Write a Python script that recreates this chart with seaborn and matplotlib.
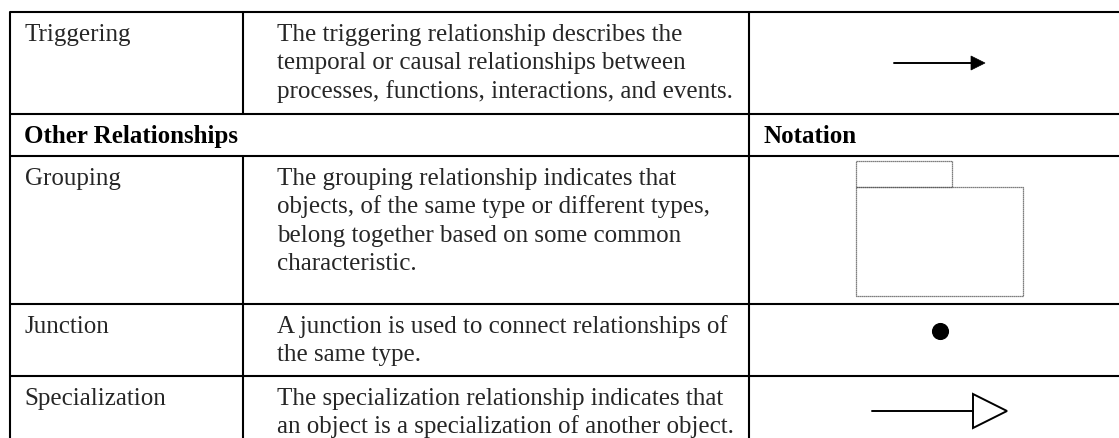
import matplotlib
matplotlib.use("Agg")
import matplotlib.pyplot as plt
from matplotlib.patches import Polygon, Rectangle
import seaborn as sns

sns.set_style("white")
plt.rcParams['font.family'] = ['Liberation Serif', 'DejaVu Serif']

# Table content
row_names = ["Triggering", "Grouping", "Junction", "Specialization"]
descriptions = [
    ["The triggering relationship describes the",
     "temporal or causal relationships between",
     "processes, functions, interactions, and events."],
    ["The grouping relationship indicates that",
     "objects, of the same type or different types,",
     "belong together based on some common",
     "characteristic."],
    ["A junction is used to connect relationships of",
     "the same type."],
    ["The specialization relationship indicates that",
     "an object is a specialization of another object."],
]
notations = ["triggering", "grouping", "junction", "specialization"]
header_left = "Other Relationships"
header_right = "Notation"

# Layout (pixels, y grows downwards)
W, H = 1119, 438
x_left, x_div1, x_div2, x_right = 9.5, 243, 749, 1140
row_tops = [12, 156, 304, 376]      # data rows
header_top, header_bottom = 114, 156
pad1, pad2, pad3 = 15, 34, 14
base_off = 29
line_gap = 28.5
fs = 18
lw = 1.5

fig = plt.figure(figsize=(W / 100, H / 100), dpi=100)
ax = fig.add_axes([0, 0, 1, 1])
ax.set_xlim(0, W)
ax.set_ylim(H, 0)
ax.axis('off')

# borders
for y in [12, 114, 156, 304, 376]:
    ax.plot([x_left, x_right], [y, y], color='black', lw=lw, solid_capstyle='butt')
ax.plot([x_left, x_left], [12, 470], color='black', lw=lw)
ax.plot([x_div2, x_div2], [12, 470], color='black', lw=lw)
ax.plot([x_div1, x_div1], [12, header_top], color='black', lw=lw)
ax.plot([x_div1, x_div1], [header_bottom, 470], color='black', lw=lw)

# header row
ax.text(x_left + pad1, header_top + 29, header_left, fontsize=fs, fontweight='bold',
        va='baseline', ha='left', color='black')
ax.text(x_div2 + pad3, header_top + 29, header_right, fontsize=fs, fontweight='bold',
        va='baseline', ha='left', color='black')

# data rows
for name, lines, top in zip(row_names, descriptions, row_tops):
    ax.text(x_left + pad1, top + base_off, name, fontsize=fs, va='baseline', ha='left')
    for k, line in enumerate(lines):
        ax.text(x_div1 + pad2, top + base_off + k * line_gap, line, fontsize=fs,
                va='baseline', ha='left')

# notation glyphs
for kind in notations:
    if kind == "triggering":
        ax.plot([894, 972], [63, 63], color='black', lw=1.4)
        ax.add_patch(Polygon([(971, 56), (985, 63), (971, 70)], closed=True,
                             facecolor='black', edgecolor='black', lw=0.5))
    elif kind == "grouping":
        box_style = dict(fill=False, edgecolor='#555555', lw=0.9, linestyle=(0, (1, 0.6)))
        ax.add_patch(Rectangle((856, 161), 96, 26, **box_style))
        ax.add_patch(Rectangle((856, 187), 167, 109, **box_style))
    elif kind == "junction":
        sns.scatterplot(x=[940], y=[331], s=130, color='black', edgecolor='black',
                        ax=ax, legend=False)
    elif kind == "specialization":
        ax.plot([872, 973], [411, 411], color='black', lw=1.4)
        ax.add_patch(Polygon([(973, 394), (1007, 411), (973, 428)], closed=True,
                             facecolor='white', edgecolor='black', lw=1.4))

ax.set_xlim(0, W)
ax.set_ylim(H, 0)
fig.savefig("out.png", dpi=100)
